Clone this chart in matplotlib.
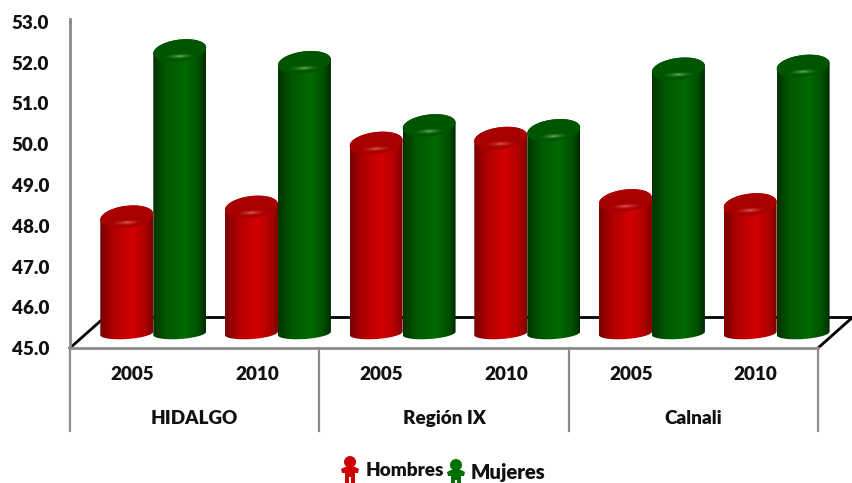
import numpy as np
import matplotlib
matplotlib.use("Agg")
import matplotlib.pyplot as plt
from matplotlib.colors import LinearSegmentedColormap
from matplotlib.patches import PathPatch, Polygon
from matplotlib.path import Path

plt.rcParams["font.family"] = ["Lato", "DejaVu Sans"]
plt.rcParams["font.weight"] = "heavy"

# valores
grupos = ["HIDALGO", "Región IX", "Calnali"]
anios = ["2005", "2010", "2005", "2010", "2005", "2010"]
hombres = [48.22, 48.46, 50.03, 50.15, 48.62, 48.52]
mujeres = [52.30, 52.01, 50.46, 50.34, 51.85, 51.92]
ticks_y = [45, 46, 47, 48, 49, 50, 51, 52, 53]

W, H = 853, 483
GRIS = "#8c8c8c"
NEGRO = "#111111"
BASE = 45.36      # centro de la base del cilindro (vista 3D)
ANCHO = 0.425
DESP = 0.168      # corrimiento de las barras por la profundidad
SEMI_TOP = 0.27
SEMI_BASE = 0.14
TILT = 0.07
FS = 13.6

cm_rojo = LinearSegmentedColormap.from_list(
    "rojo", [(0, "#7a0000"), (0.25, "#b00000"), (0.6, "#d40000"), (0.85, "#b00000"), (1, "#800000")])
cm_verde = LinearSegmentedColormap.from_list(
    "verde", [(0, "#003300"), (0.25, "#005800"), (0.6, "#006a00"), (0.85, "#005200"), (1, "#002c00")])

fig = plt.figure(figsize=(W / 100, H / 100), dpi=100, facecolor="white")
ax = fig.add_axes([70 / W, (H - 348) / H, 748 / W, 326 / H])


def elipse(xc, yc, semi, a=0, b=np.pi, tilt=TILT):
    t = np.linspace(a, b, 40)
    u = np.cos(t)
    return xc + u * ANCHO / 2, yc + np.sin(t) * semi + u * tilt


def cilindro(xc, valor, cmap, tapa, brillo):
    # cuerpo + tapas, recortando un degradado horizontal
    xt, yt = elipse(xc, valor, SEMI_TOP, 0, np.pi)
    xb, yb = elipse(xc, BASE, SEMI_BASE, np.pi, 2 * np.pi, tilt=TILT * 0.6)
    pts = np.column_stack([np.r_[xt, xb], np.r_[yt, yb]])
    pts = np.vstack([pts, pts[0]])
    forma = PathPatch(Path(pts), fc="none", ec="none", transform=ax.transData, clip_on=False)
    ax.add_patch(forma)
    grad = np.linspace(0, 1, 128).reshape(1, -1)
    im = ax.imshow(grad, cmap=cmap, aspect="auto", zorder=3, interpolation="bilinear",
                   extent=[xc - ANCHO / 2, xc + ANCHO / 2, BASE - 0.3, valor + 0.4])
    im.set_clip_box(fig.bbox)
    im.set_clip_path(forma)

    # tapa superior, mas oscura arriba y con brillo suave abajo
    xl, yl = elipse(xc, valor, SEMI_TOP, 0, 2 * np.pi)
    ax.fill(xl, yl, color=tapa, lw=0, zorder=3.1, clip_on=False)
    for f, al in [(0.55, 0.06), (0.42, 0.09), (0.3, 0.14), (0.18, 0.2), (0.1, 0.3)]:
        ax.fill(xc + (xl - xc) * f, valor - 0.14 + (yl - valor) * f * 0.45, color=brillo,
                alpha=al, lw=0, zorder=3.2, clip_on=False)


# piso 3D
ax.plot([0, 0.28], [45, 45.76], color="black", lw=2, clip_on=False, zorder=1)
ax.plot([6, 6.28], [45, 45.76], color="black", lw=2, clip_on=False, zorder=1)
ax.plot([0.28, 6.28], [45.76, 45.76], color="black", lw=2, clip_on=False, zorder=1)

for i, (h, m) in enumerate(zip(hombres, mujeres)):
    cx = i + 0.5 + DESP
    cilindro(cx - ANCHO / 2, h, cm_rojo, "#a80000", "#ff9090")
    cilindro(cx + ANCHO / 2, m, cm_verde, "#005500", "#a0e8a0")

ax.set_xlim(0, 6)
ax.set_ylim(45, 53)

for s in ["top", "right"]:
    ax.spines[s].set_visible(False)
for s in ["left", "bottom"]:
    ax.spines[s].set_color(GRIS)
    ax.spines[s].set_linewidth(2)
    ax.spines[s].set_zorder(2)

ax.set_yticks(ticks_y, [f"{v:.1f}" for v in ticks_y])
ax.set_xticks(np.arange(6) + 0.5, anios)
ax.tick_params(axis="y", length=0, pad=15, labelsize=FS, labelcolor=NEGRO)
ax.tick_params(axis="x", length=0, pad=13, labelsize=FS, labelcolor=NEGRO)

# separadores y etiquetas de grupo
for x in [0, 2, 4, 6]:
    ax.plot([x, x], [45, 42.96], color=GRIS, lw=1.6, clip_on=False, zorder=2)
ax.plot([0, 0], [53, 53.07], color=GRIS, lw=2, clip_on=False)
for i, g in enumerate(grupos):
    ax.text(2 * i + 1, 43.28, g, ha="center", va="center", fontsize=FS, color=NEGRO)


# leyenda
def figura(cx, cy, color):
    tr = fig.transFigure

    def p(x, y):
        return ((cx + x) / W, (H - cy - y) / H)

    cabeza = np.linspace(0, 2 * np.pi, 30)
    fig.add_artist(Polygon([p(6 * np.cos(t), -8 + 6 * np.sin(t)) for t in cabeza],
                           fc=color, ec="none", transform=tr))
    cuerpo = [(-9, -1), (-5, -3), (5, -3), (9, -1), (8, 3), (5, 3), (5, 14), (1, 14), (1, 7),
              (-1, 7), (-1, 14), (-5, 14), (-5, 3), (-8, 3)]
    fig.add_artist(Polygon([p(x, y) for x, y in cuerpo], fc=color, ec="none", transform=tr))


figura(350, 470, "#cc0000")
figura(456, 473, "#007000")
fig.text(366 / W, (H - 471) / H, "Hombres", ha="left", va="center", fontsize=FS, color=NEGRO)
fig.text(471 / W, (H - 473) / H, "Mujeres", ha="left", va="center", fontsize=14.6, color=NEGRO)

fig.savefig("out.png", dpi=100, facecolor="white")
plt.close(fig)
